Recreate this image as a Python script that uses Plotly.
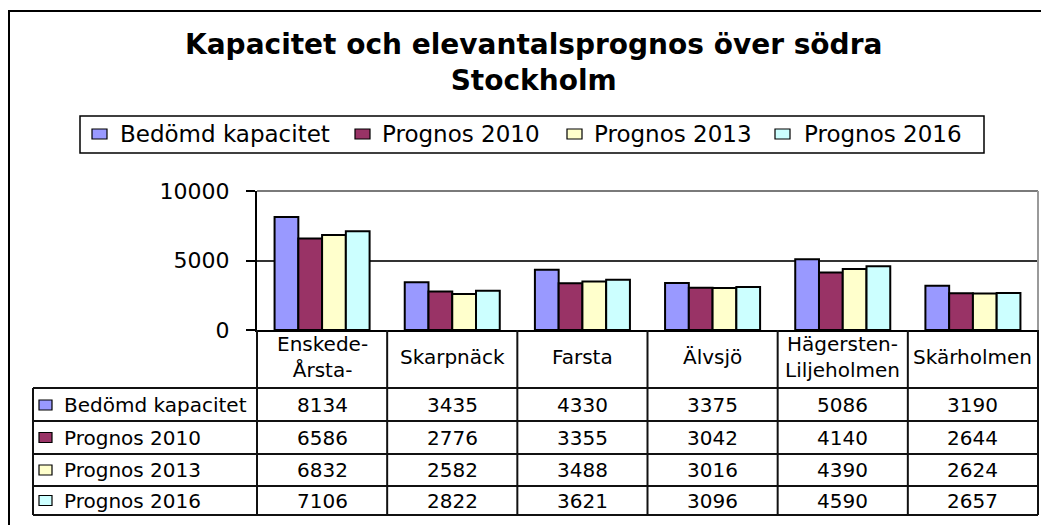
import plotly.graph_objects as go

# ---------------- data ----------------
categories = ["Enskede-Årsta-", "Skarpnäck", "Farsta", "Älvsjö",
              "Hägersten-Liljeholmen", "Skärholmen"]
category_labels = ["Enskede-<br>Årsta-", "Skarpnäck", "Farsta", "Älvsjö",
                   "Hägersten-<br>Liljeholmen", "Skärholmen"]
series_names = ["Bedömd kapacitet", "Prognos 2010", "Prognos 2013", "Prognos 2016"]
bedomd_kapacitet = [8134, 3435, 4330, 3375, 5086, 3190]
prognos_2010 = [6586, 2776, 3355, 3042, 4140, 2644]
prognos_2013 = [6832, 2582, 3488, 3016, 4390, 2624]
prognos_2016 = [7106, 2822, 3621, 3096, 4590, 2657]
y_ticks = [0, 5000, 10000]
title_text = "Kapacitet och elevantalsprognos över södra<br>Stockholm"

series_values = [bedomd_kapacitet, prognos_2010, prognos_2013, prognos_2016]
colors = ["#9999FF", "#993366", "#FFFFCC", "#CCFFFF"]

# ---------------- layout geometry (pixels, page coords) ----------------
OFF = 8  # browser default body margin
W, H = 1049 - OFF, 525 - OFF
L, R, T, B = 257, 1038, 191, 330  # plot area in page pixels
FONT = "DejaVu Sans"


def px(x):
    return (x - L) / (R - L)


def py(y):
    return (B - y) / (B - T)


fig = go.Figure()
for name, vals, col in zip(series_names, series_values, colors):
    fig.add_trace(go.Bar(
        x=categories, y=vals, name=name,
        marker=dict(color=col, line=dict(color="black", width=2)),
        showlegend=False,
    ))

shapes = []
annotations = []


def line(x0, y0, x1, y1, color="black", width=1.5, layer="above"):
    shapes.append(dict(type="line", xref="paper", yref="paper",
                       x0=px(x0), y0=py(y0), x1=px(x1), y1=py(y1),
                       line=dict(color=color, width=width), layer=layer))


# outer chart border (runs off the right/bottom edge)
shapes.append(dict(type="rect", xref="paper", yref="paper",
                   x0=px(9), y0=py(11), x1=px(1100), y1=py(600),
                   line=dict(color="black", width=2), fillcolor="rgba(0,0,0,0)",
                   layer="above"))

# plot area border (gray top & right)
line(L, T, R, T, color="#7a7a7a", width=2)
line(R, T, R, B, color="#9a9a9a", width=2)

# title
annotations.append(dict(xref="paper", yref="paper", x=px(533), y=py(62),
                        text="<b>" + title_text + "</b>", showarrow=False,
                        xanchor="center", yanchor="middle",
                        font=dict(family=FONT, size=28, color="black")))

# legend box (manual)
shapes.append(dict(type="rect", xref="paper", yref="paper",
                   x0=px(80), y0=py(116), x1=px(984), y1=py(153),
                   line=dict(color="black", width=1.5), fillcolor="white",
                   layer="above"))
leg_sq_x = [92, 355, 567, 775]
leg_tx_x = [118, 380, 592, 802]
leg_cy = 134
for name, col, sx, tx in zip(series_names, colors, leg_sq_x, leg_tx_x):
    shapes.append(dict(type="rect", xref="paper", yref="paper",
                       x0=px(sx), y0=py(leg_cy - 5), x1=px(sx + 15), y1=py(leg_cy + 5),
                       line=dict(color="black", width=1.2), fillcolor=col,
                       layer="above"))
    annotations.append(dict(xref="paper", yref="paper", x=px(tx), y=py(leg_cy),
                            text=name, showarrow=False,
                            xanchor="left", yanchor="middle",
                            font=dict(family=FONT, size=23, color="black")))

# ---------------- data table ----------------
row_lines = [388, 421, 454, 486, 515]
row_centers = [405, 437.5, 470, 500.5]
tbl_left = 33
col_w = (R - L) / len(categories)

for yl in row_lines:
    line(tbl_left, yl, R, yl, color="#111111", width=2)
line(tbl_left, 388, tbl_left, 515, color="#111111", width=2)
line(L, B, L, 515, color="#111111", width=2)
for i in range(1, len(categories) + 1):
    xx = L + i * col_w
    line(xx, B, xx, 515, color="#111111", width=2)

for cat, lab in zip(categories, category_labels):
    annotations.append(dict(xref="x", yref="paper", x=cat, y=py(357),
                            text=lab, showarrow=False,
                            xanchor="center", yanchor="middle",
                            font=dict(family=FONT, size=20, color="black")))

for name, col, vals, cy in zip(series_names, colors, series_values, row_centers):
    shapes.append(dict(type="rect", xref="paper", yref="paper",
                       x0=px(39), y0=py(cy - 5), x1=px(52), y1=py(cy + 5),
                       line=dict(color="black", width=1.2), fillcolor=col,
                       layer="above"))
    annotations.append(dict(xref="paper", yref="paper", x=px(62), y=py(cy),
                            text=name, showarrow=False,
                            xanchor="left", yanchor="middle",
                            font=dict(family=FONT, size=20, color="black")))
    for cat, v in zip(categories, vals):
        annotations.append(dict(xref="x", yref="paper", x=cat, y=py(cy),
                                text=str(v), showarrow=False,
                                xanchor="center", yanchor="middle",
                                font=dict(family=FONT, size=20, color="black")))

fig.update_layout(
    width=W, height=H,
    margin=dict(l=L - OFF, r=W - (R - OFF), t=T - OFF, b=H - (B - OFF), pad=0),
    paper_bgcolor="white", plot_bgcolor="white",
    barmode="group", bargap=0.27, bargroupgap=0,
    shapes=shapes, annotations=annotations,
    font=dict(family=FONT, color="black"),
)
fig.update_xaxes(range=[-0.5, len(categories) - 0.5], showticklabels=False,
                 ticks="", showgrid=False, showline=True,
                 linecolor="black", linewidth=2, zeroline=False)
fig.update_yaxes(range=[0, 10000], tickvals=y_ticks,
                 ticktext=[str(t) for t in y_ticks],
                 ticks="outside", ticklen=9, tickwidth=1.5, tickcolor="black",
                 ticklabelstandoff=12,
                 showline=True, linecolor="black", linewidth=2,
                 showgrid=True, gridcolor="#333333", gridwidth=1.5,
                 zeroline=False,
                 tickfont=dict(family=FONT, size=22, color="black"))

fig.write_html("out.html")
